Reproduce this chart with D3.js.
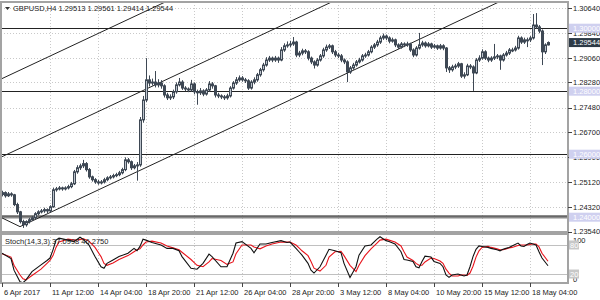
<!DOCTYPE html>
<html>
<head>
<meta charset="utf-8">
<script src="https://cdn.jsdelivr.net/npm/d3@7"></script>
<style>
  body { margin: 0; background: #fff; }
  svg text { font-family: "Liberation Sans", Arial, sans-serif; font-size: 7.5px; fill: #222; }
</style>
</head>
<body>
<svg id="chart" width="600" height="300"></svg>
<script>
// ---- data ----
const symbolTitle = "GBPUSD,H4  1.29513 1.29561 1.29414 1.29544";
const stochTitle = "Stoch(14,3,3) 37.0998 46.2750";

const firstOpen = 1.2472;
const closes = [
  1.2478,1.2468,1.2474,1.2471,1.2440,1.2417,1.2386,1.2376,1.2386,1.2392,
  1.2398,1.2411,1.2417,1.2420,1.2424,1.2420,1.2433,1.2487,1.2490,1.2493,
  1.2490,1.2493,1.2497,1.2506,1.2544,1.2557,1.2563,1.2570,1.2551,1.2528,
  1.2519,1.2512,1.2509,1.2512,1.2519,1.2525,1.2528,1.2532,1.2535,1.2541,
  1.2551,1.2582,1.2576,1.2557,1.2563,1.2566,1.2709,1.2772,1.2836,1.2826,
  1.2829,1.2820,1.2826,1.2817,1.2788,1.2779,1.2782,1.2798,1.2820,1.2829,
  1.2810,1.2807,1.2804,1.2823,1.2798,1.2795,1.2801,1.2791,1.2804,1.2823,
  1.2817,1.2788,1.2785,1.2782,1.2779,1.2785,1.2810,1.2826,1.2836,1.2842,
  1.2836,1.2833,1.2810,1.2829,1.2836,1.2852,1.2868,1.2883,1.2899,1.2905,
  1.2899,1.2905,1.2899,1.2931,1.2944,1.2947,1.2950,1.2956,1.2915,1.2921,
  1.2928,1.2925,1.2905,1.2893,1.2883,1.2899,1.2912,1.2931,1.2940,1.2944,
  1.2925,1.2915,1.2912,1.2899,1.2893,1.2861,1.2874,1.2883,1.2893,1.2899,
  1.2912,1.2915,1.2925,1.2940,1.2947,1.2956,1.2969,1.2975,1.2969,1.2959,
  1.2963,1.2947,1.2940,1.2950,1.2947,1.2950,1.2931,1.2915,1.2937,1.2947,
  1.2953,1.2944,1.2950,1.2940,1.2944,1.2937,1.2944,1.2937,1.2874,1.2868,
  1.2877,1.2880,1.2887,1.2848,1.2852,1.2880,1.2877,1.2858,1.2899,1.2905,
  1.2925,1.2905,1.2899,1.2905,1.2909,1.2912,1.2899,1.2915,1.2921,1.2931,
  1.2931,1.2937,1.2969,1.2956,1.2963,1.2963,1.2969,1.3010,1.3004,1.2991,
  1.2925,1.2947,1.29544
];
const highs = [
  1.2484,1.2482,1.2480,1.2479,1.2474,1.2446,1.2420,1.2392,1.2390,1.2398,
  1.2404,1.2416,1.2422,1.2426,1.2430,1.2428,1.2438,1.2494,1.2496,1.2499,
  1.2497,1.2498,1.2503,1.2512,1.2550,1.2565,1.2570,1.2582,1.2575,1.2556,
  1.2532,1.2524,1.2518,1.2518,1.2525,1.2530,1.2534,1.2538,1.2541,1.2547,
  1.2557,1.2590,1.2588,1.2580,1.2569,1.2575,1.2718,1.2785,1.2905,1.2850,
  1.2840,1.2864,1.2838,1.2835,1.2822,1.2795,1.2790,1.2805,1.2828,1.2842,
  1.2835,1.2816,1.2812,1.2836,1.2828,1.2805,1.2810,1.2806,1.2810,1.2832,
  1.2829,1.2820,1.2795,1.2790,1.2788,1.2792,1.2816,1.2832,1.2845,1.2850,
  1.2848,1.2842,1.2838,1.2835,1.2844,1.2858,1.2874,1.2890,1.2908,1.2912,
  1.2910,1.2912,1.2910,1.2940,1.2952,1.2958,1.2960,1.2972,1.2960,1.2928,
  1.2935,1.2934,1.2930,1.2910,1.2898,1.2905,1.2918,1.2938,1.2948,1.2950,
  1.2948,1.2931,1.2922,1.2918,1.2904,1.2898,1.2880,1.2890,1.2899,1.2906,
  1.2918,1.2922,1.2931,1.2946,1.2953,1.2963,1.2976,1.2983,1.2980,1.2974,
  1.2970,1.2967,1.2952,1.2956,1.2955,1.2957,1.2954,1.2936,1.2943,1.2985,
  1.2960,1.2958,1.2956,1.2954,1.2950,1.2948,1.2950,1.2949,1.2940,1.2880,
  1.2884,1.2887,1.2893,1.2890,1.2860,1.2887,1.2886,1.2882,1.2905,1.2914,
  1.2933,1.2930,1.2910,1.2911,1.2950,1.2918,1.2916,1.2921,1.2928,1.2937,
  1.2938,1.2944,1.2976,1.2974,1.2970,1.2970,1.2975,1.3045,1.3048,1.3010,
  1.2996,1.2952,1.2958
];
const lows = [
  1.2466,1.2462,1.2464,1.2465,1.2435,1.2410,1.2380,1.2366,1.2370,1.2380,
  1.2388,1.2394,1.2406,1.2412,1.2414,1.2413,1.2415,1.2430,1.2481,1.2485,
  1.2484,1.2485,1.2488,1.2492,1.2502,1.2538,1.2550,1.2556,1.2545,1.2522,
  1.2513,1.2506,1.2503,1.2504,1.2507,1.2514,1.2520,1.2523,1.2527,1.2530,
  1.2536,1.2546,1.2570,1.2550,1.2552,1.2516,1.2560,1.2700,1.2765,1.2815,
  1.2818,1.2812,1.2812,1.2808,1.2780,1.2772,1.2772,1.2775,1.2792,1.2815,
  1.2804,1.2800,1.2797,1.2798,1.2790,1.2757,1.2788,1.2784,1.2786,1.2798,
  1.2808,1.2780,1.2778,1.2775,1.2772,1.2773,1.2780,1.2805,1.2820,1.2830,
  1.2830,1.2826,1.2804,1.2805,1.2822,1.2830,1.2846,1.2862,1.2878,1.2893,
  1.2892,1.2893,1.2890,1.2895,1.2925,1.2938,1.2940,1.2944,1.2908,1.2908,
  1.2914,1.2918,1.2898,1.2886,1.2872,1.2878,1.2894,1.2906,1.2925,1.2934,
  1.2918,1.2908,1.2905,1.2892,1.2886,1.2829,1.2855,1.2868,1.2878,1.2888,
  1.2894,1.2906,1.2910,1.2920,1.2934,1.2941,1.2950,1.2963,1.2962,1.2952,
  1.2954,1.2940,1.2934,1.2935,1.2940,1.2941,1.2925,1.2908,1.2910,1.2932,
  1.2941,1.2938,1.2939,1.2934,1.2935,1.2931,1.2932,1.2930,1.2861,1.2858,
  1.2862,1.2870,1.2874,1.2842,1.2840,1.2848,1.2870,1.2801,1.2854,1.2893,
  1.2900,1.2899,1.2892,1.2893,1.2899,1.2902,1.2868,1.2894,1.2910,1.2915,
  1.2924,1.2926,1.2932,1.2950,1.2950,1.2940,1.2956,1.2964,1.2998,1.2984,
  1.2883,1.2918,1.2945
];

const priceTicks = [1.30640, 1.29840, 1.29060, 1.28280, 1.27480, 1.26700, 1.25900, 1.25120, 1.24320, 1.23540];
const levelLines = [1.30000, 1.28000, 1.26000];
const supportLevel = 1.24000;
const lastPrice = 1.29544;

const timeLabels = ["6 Apr 2017", "11 Apr 12:00", "14 Apr 04:00", "18 Apr 20:00", "21 Apr 12:00", "26 Apr 04:00",
                    "28 Apr 20:00", "3 May 12:00", "8 May 04:00", "10 May 20:00", "15 May 12:00", "18 May 04:00"];
const barsPerLabel = 16;

// trend channel anchors [bar, price]
const channelTop = [[0, 1.2840], [100, 1.3287]];
const channelMid = [[0, 1.2592], [100, 1.3039]];
const channelLow = [[6, 1.2370], [100, 1.2790]];
const swingLine = [[-0.7, 1.2401], [6, 1.2370]];

// stochastic (14,3,3) read at these bars
const stochBars = [0,3,4,6,7,8,10,13,15,16,17,18,19,22,24,26,27,29,31,33,34,35,37,39,42,44,45,46,47,48,
  50,53,55,57,59,60,63,65,67,69,70,73,75,77,78,80,83,84,86,88,90,93,95,96,98,99,100,102,103,104,
  106,108,109,111,113,114,116,118,119,121,123,125,126,128,129,131,133,134,135,137,138,139,140,141,143,144,146,147,148,149,
  150,152,153,154,155,156,157,158,159,160,162,163,165,166,167,168,169,170,172,173,174,175,176,177,178,179,180,182];
const stochK = [63,52,28,4,2,8,25,39,48,53,70,90,94,90,87,96,92,80,56,35,32,42,49,56,63,73,68,77,92,90,
  85,80,73,73,68,56,32,30,42,61,56,35,35,63,84,87,73,64,82,82,85,89,85,86,73,66,59,42,28,22,
  35,59,71,68,64,42,13,35,59,78,80,92,97,89,87,82,66,50,49,46,35,33,46,57,55,46,42,35,18,13,
  18,20,18,16,18,35,56,71,78,77,75,73,70,68,71,73,75,78,84,78,77,81,84,82,80,66,53,37.1];
const stochD = [62,55,38,18,10,8,17,30,42,48,58,75,86,92,90,91,93,88,75,56,42,38,43,50,58,66,70,72,80,86,
  88,84,78,74,70,65,50,38,35,45,52,48,40,45,62,80,80,76,72,78,82,86,86,86,80,74,68,58,46,32,
  26,38,55,66,67,58,38,25,38,58,72,84,90,92,90,86,78,66,55,48,42,38,38,45,53,52,47,42,30,22,
  16,16,18,18,17,22,36,55,68,75,77,75,72,70,70,72,74,75,79,80,80,80,81,82,82,76,63,46.3];
const stochLevels = [20, 80];

// ---- layout ----
const svg = d3.select("#chart");
const plotL = 1, plotR = 568;
const mainTop = 2, mainBot = 232;
const stTop = 234, stBot = 283;

const x = d3.scaleLinear().domain([0, 189]).range([2, 569]);
const y = d3.scaleLinear().domain([1.2353, 1.3080]).range([232, 3]);
const ys = d3.scaleLinear().domain([0, 100]).range([283.7, 235.3]);

const px = v => Math.round(x(v));
const defs = svg.append("defs");
defs.append("clipPath").attr("id", "clipMain")
  .append("rect").attr("x", plotL).attr("y", mainTop).attr("width", plotR - plotL).attr("height", mainBot - mainTop);
defs.append("clipPath").attr("id", "clipStoch")
  .append("rect").attr("x", plotL).attr("y", stTop).attr("width", plotR - plotL).attr("height", stBot - stTop);

const gridColor = "#c9c9c9";
const labelBars = timeLabels.map((d, i) => i * barsPerLabel);

// grid - main
const gMain = svg.append("g").attr("clip-path", "url(#clipMain)");
gMain.selectAll("line.hg").data(priceTicks).enter().append("line")
  .attr("x1", plotL).attr("x2", plotR)
  .attr("y1", d => Math.round(y(d)) + 0.5).attr("y2", d => Math.round(y(d)) + 0.5)
  .attr("stroke", gridColor).attr("stroke-dasharray", "1,2");
gMain.selectAll("line.vg").data(labelBars.slice(1)).enter().append("line")
  .attr("x1", d => px(d) + 0.5).attr("x2", d => px(d) + 0.5)
  .attr("y1", mainTop).attr("y2", mainBot)
  .attr("stroke", gridColor).attr("stroke-dasharray", "1,2");

// horizontal levels
gMain.selectAll("line.lvl").data(levelLines).enter().append("line")
  .attr("x1", plotL).attr("x2", plotR)
  .attr("y1", d => Math.round(y(d)) + 0.5).attr("y2", d => Math.round(y(d)) + 0.5)
  .attr("stroke", "#222").attr("stroke-width", 1);
gMain.append("line")
  .attr("x1", plotL).attr("x2", plotR)
  .attr("y1", Math.round(y(supportLevel))).attr("y2", Math.round(y(supportLevel)))
  .attr("stroke", "#8c8c8c").attr("stroke-width", 3);
gMain.append("line")
  .attr("x1", plotL).attr("x2", plotR)
  .attr("y1", Math.round(y(supportLevel)) - 1).attr("y2", Math.round(y(supportLevel)) - 1)
  .attr("stroke", "#333").attr("stroke-width", 0.8);

// channel lines (rays through two anchors)
function ray(pts, fromStart) {
  const [a, b] = pts;
  const slope = (b[1] - a[1]) / (b[0] - a[0]);
  const x0 = fromStart ? a[0] : -2;
  const x1 = 192;
  return [[x(x0), y(a[1] + slope * (x0 - a[0]))], [x(x1), y(a[1] + slope * (x1 - a[0]))]];
}
const lineGen = d3.line();
[[channelTop, false], [channelMid, false], [channelLow, true]].forEach(([pts, fs]) => {
  gMain.append("path").attr("d", lineGen(ray(pts, fs)))
    .attr("fill", "none").attr("stroke", "#222").attr("stroke-width", 1);
});
gMain.append("path").attr("d", lineGen(swingLine.map(d => [x(d[0]), y(d[1])])))
  .attr("fill", "none").attr("stroke", "#222").attr("stroke-width", 1);

// candles
const bars = closes.map((c, i) => ({
  i, o: i === 0 ? firstOpen : closes[i - 1], c, h: highs[i], l: lows[i]
}));
const bullFill = "#bcc3cc", bearFill = "#3e4854", edge = "#3e4854";
const gC = gMain.append("g");
gC.selectAll("line.wick").data(bars).enter().append("line")
  .attr("x1", d => px(d.i) + 0.5).attr("x2", d => px(d.i) + 0.5)
  .attr("y1", d => y(d.h)).attr("y2", d => y(d.l))
  .attr("stroke", edge).attr("stroke-width", 1);
gC.selectAll("rect").data(bars).enter().append("rect")
  .attr("x", d => px(d.i) - 0.5)
  .attr("width", 2)
  .attr("y", d => y(Math.max(d.o, d.c)))
  .attr("height", d => Math.max(1, Math.abs(y(d.o) - y(d.c))))
  .attr("fill", d => d.c >= d.o ? bullFill : bearFill)
  .attr("stroke", edge).attr("stroke-width", 1);

// stochastic panel
const gSt = svg.append("g").attr("clip-path", "url(#clipStoch)");
gSt.selectAll("line.vg").data(labelBars.slice(1)).enter().append("line")
  .attr("x1", d => px(d) + 0.5).attr("x2", d => px(d) + 0.5)
  .attr("y1", stTop).attr("y2", stBot)
  .attr("stroke", gridColor).attr("stroke-dasharray", "1,2");
gSt.selectAll("line.sl").data(stochLevels).enter().append("line")
  .attr("x1", plotL).attr("x2", plotR)
  .attr("y1", d => Math.round(ys(d)) + 0.5).attr("y2", d => Math.round(ys(d)) + 0.5)
  .attr("stroke", "#c0c0c0");
const stLine = d3.line().x((d, i) => x(stochBars[i]));
gSt.append("path").datum(stochD).attr("d", stLine.y(d => ys(d)))
  .attr("fill", "none").attr("stroke", "#e8141c").attr("stroke-width", 1.1);
gSt.append("path").datum(stochK).attr("d", stLine.y(d => ys(d)))
  .attr("fill", "none").attr("stroke", "#111").attr("stroke-width", 1.1);

// frames
const frameColor = "#a3a3a3";
svg.append("rect").attr("x", plotL).attr("y", mainTop).attr("width", plotR - plotL).attr("height", mainBot - mainTop)
  .attr("fill", "none").attr("stroke", frameColor).attr("stroke-width", 2);
svg.append("rect").attr("x", plotL).attr("y", stTop).attr("width", plotR - plotL).attr("height", stBot - stTop)
  .attr("fill", "none").attr("stroke", frameColor).attr("stroke-width", 2);

// title texts
svg.append("path").attr("d", "M5,7 L10,7 L7.5,10 Z").attr("fill", "#333");
svg.append("text").attr("x", 13).attr("y", 11).text(symbolTitle);
svg.append("text").attr("x", 5).attr("y", 244).attr("fill", "#555").text(stochTitle);

// right price axis
const gAx = svg.append("g");
gAx.selectAll("line.tk").data(priceTicks).enter().append("line")
  .attr("x1", plotR).attr("x2", plotR + 4)
  .attr("y1", d => Math.round(y(d)) + 0.5).attr("y2", d => Math.round(y(d)) + 0.5)
  .attr("stroke", "#444");
gAx.selectAll("text.tk").data(priceTicks).enter().append("text")
  .attr("x", 573).attr("y", d => y(d) + 2.7)
  .text(d => d.toFixed(5));

function box(val, yy, fill, w) {
  gAx.append("rect").attr("x", 569).attr("y", yy - 4.5).attr("width", w).attr("height", 9).attr("fill", fill);
  gAx.append("text").attr("x", 573).attr("y", yy + 2.7).style("fill", "#fff").text(val);
}
levelLines.concat([supportLevel]).forEach(v => box(v.toFixed(5), y(v), "#cfd0ef", 31));
box(lastPrice.toFixed(5), y(lastPrice), "#2d3a46", 31);

// stochastic axis
gAx.append("text").attr("x", 573).attr("y", 243).text("100");
gAx.append("text").attr("x", 573).attr("y", 282).text("0");
stochLevels.forEach(v => {
  gAx.append("rect").attr("x", 569).attr("y", ys(v) - 4.5).attr("width", 10).attr("height", 9).attr("fill", "#c8c8c8");
  gAx.append("text").attr("x", 570).attr("y", ys(v) + 2.7).style("fill", "#fff").text(v);
});

// time axis
gAx.selectAll("line.tt").data(labelBars).enter().append("line")
  .attr("x1", d => px(d) + 0.5).attr("x2", d => px(d) + 0.5)
  .attr("y1", stBot).attr("y2", stBot + 4)
  .attr("stroke", "#444");
gAx.selectAll("text.tt").data(timeLabels).enter().append("text")
  .attr("x", (d, i) => px(labelBars[i]) + 2).attr("y", 295)
  .text(d => d);
</script>
</body>
</html>
